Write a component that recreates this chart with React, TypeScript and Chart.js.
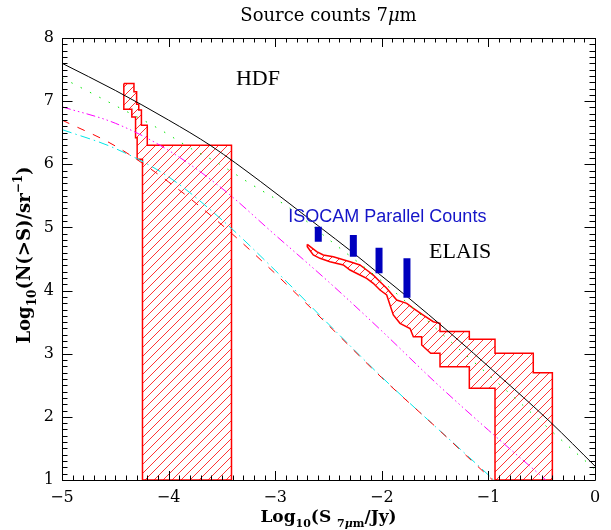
import React, { useEffect, useRef } from "react";
import { Chart, registerables } from "chart.js";

Chart.register(...registerables);

// ---------- data ----------
const xTicks = [-5, -4, -3, -2, -1, 0];
const yTicks = [1, 2, 3, 4, 5, 6, 7, 8];

// model curves
const blackX = [-5, -4.5, -4.0, -3.6, -3.14, -2.6, -2.27, -2.03, -1.76, -1.36, -0.92, -0.42, 0];
const blackY = [7.6, 7.17, 6.7, 6.29, 5.73, 5.03, 4.6, 4.27, 3.9, 3.33, 2.68, 1.92, 1.22];

const greenX = [-5, -4.5, -4.1, -3.77, -3.58, -3.24, -2.86, -2.49, -2.0, -1.67, -1.3, -0.92, -0.49, -0.3, 0];
const greenY = [7.37, 6.93, 6.57, 6.23, 6.06, 5.7, 5.3, 4.8, 4.15, 3.67, 3.11, 2.55, 1.9, 1.61, 1.17];

const magentaX = [-5, -4.5, -4.0, -3.5, -3.0, -2.5, -2.0, -1.5, -1.0, -0.46];
const magentaY = [6.91, 6.65, 6.22, 5.62, 4.88, 4.14, 3.36, 2.55, 1.79, 1.0];

const redX = [-5, -4.5, -4.0, -3.5, -3.0, -2.5, -2.0, -1.5, -1.0, -0.96];
const redY = [6.7, 6.29, 5.72, 5.04, 4.27, 3.45, 2.62, 1.85, 1.06, 1.0];

const cyanX = [-5, -4.5, -4.0, -3.5, -3.0, -2.5, -2.0, -1.5, -1.0, -0.95];
const cyanY = [6.55, 6.25, 5.8, 5.12, 4.32, 3.47, 2.63, 1.85, 1.08, 1.0];

// HDF counts region (closed outline)
const hdfX = [-4.42, -4.325, -4.325, -4.3, -4.3, -4.28, -4.28, -4.255, -4.255, -4.2, -4.2, -3.41, -3.41, -4.245, -4.245, -4.295, -4.295, -4.31, -4.31, -4.345, -4.345, -4.42, -4.42];
const hdfY = [7.28, 7.28, 7.15, 7.15, 6.95, 6.95, 6.86, 6.86, 6.62, 6.62, 6.3, 6.3, 1.0, 1.0, 6.08, 6.08, 6.42, 6.42, 6.75, 6.75, 6.87, 6.87, 7.28];

// ELAIS counts region (closed outline)
const elaisX = [-2.699, -2.611, -2.549, -2.455, -2.298, -2.205, -2.142, -2.08, -2.017, -1.954, -1.86, -1.766, -1.704, -1.611, -1.517, -1.454, -1.454, -1.179, -1.179, -0.938, -0.938, -0.579, -0.579, -0.4, -0.4, -0.938, -0.938, -1.179, -1.179, -1.454, -1.454, -1.541, -1.626, -1.626, -1.704, -1.735, -1.829, -1.892, -1.923, -1.954, -2.017, -2.08, -2.142, -2.205, -2.298, -2.361, -2.486, -2.58, -2.643, -2.699, -2.699];
const elaisY = [4.733, 4.616, 4.563, 4.536, 4.457, 4.405, 4.326, 4.246, 4.14, 4.036, 3.85, 3.798, 3.719, 3.613, 3.507, 3.481, 3.35, 3.35, 3.228, 3.228, 3.006, 3.006, 2.7, 2.7, 1.0, 1.0, 2.452, 2.452, 2.794, 2.794, 3.006, 3.006, 3.138, 3.27, 3.27, 3.4, 3.481, 3.613, 3.771, 3.93, 4.009, 4.115, 4.194, 4.246, 4.326, 4.405, 4.457, 4.511, 4.563, 4.695, 4.733];

// ISOCAM parallel counts (vertical bars)
const isoX = [-2.596, -2.267, -2.026, -1.764];
const isoLo = [4.774, 4.536, 4.273, 3.887];
const isoHi = [5.011, 4.88, 4.679, 4.511];

// ---------- helpers ----------
const pts = (xs: number[], ys: number[]) => xs.map((x, i) => ({ x, y: ys[i] }));

type Seg = { t: string; k?: "sub" | "sup"; it?: boolean };

function drawRich(
  ctx: CanvasRenderingContext2D,
  segs: Seg[],
  cx: number,
  cy: number,
  size: number,
  family: string,
  weight: string,
  rotate: boolean
) {
  ctx.save();
  ctx.translate(cx, cy);
  if (rotate) ctx.rotate(-Math.PI / 2);
  const fontFor = (s: Seg) =>
    `${s.it ? "italic " : ""}${weight} ${s.k ? Math.round(size * 0.65) : size}px ${family}`;
  let total = 0;
  segs.forEach((s) => {
    ctx.font = fontFor(s);
    total += ctx.measureText(s.t).width;
  });
  let x = -total / 2;
  ctx.textAlign = "left";
  ctx.textBaseline = "alphabetic";
  ctx.fillStyle = "#000";
  segs.forEach((s) => {
    ctx.font = fontFor(s);
    const dy = s.k === "sub" ? size * 0.3 : s.k === "sup" ? -size * 0.45 : 0;
    ctx.fillText(s.t, x, size * 0.35 + dy);
    x += ctx.measureText(s.t).width;
  });
  ctx.restore();
}

const hatchPlugin = {
  id: "hatchFill",
  beforeDatasetsDraw(chart: any) {
    const ctx: CanvasRenderingContext2D = chart.ctx;
    const a = chart.chartArea;
    chart.data.datasets.forEach((ds: any, i: number) => {
      if (!ds.hatch) return;
      const meta = chart.getDatasetMeta(i);
      const els = meta.data;
      if (!els.length) return;
      ctx.save();
      ctx.beginPath();
      ctx.rect(a.left, a.top, a.right - a.left, a.bottom - a.top);
      ctx.clip();
      ctx.beginPath();
      els.forEach((p: any, j: number) => (j === 0 ? ctx.moveTo(p.x, p.y) : ctx.lineTo(p.x, p.y)));
      ctx.closePath();
      ctx.clip();
      ctx.strokeStyle = "rgba(255,30,30,0.9)";
      ctx.lineWidth = 1;
      ctx.beginPath();
      const step = 9;
      for (let c = a.left + a.top - 600; c <= a.right + a.bottom + 20; c += step) {
        ctx.moveTo(c - a.bottom, a.bottom);
        ctx.lineTo(c - a.top, a.top);
      }
      ctx.stroke();
      ctx.restore();
    });
  },
};

const framePlugin = {
  id: "frameTicks",
  afterDatasetsDraw(chart: any) {
    const ctx: CanvasRenderingContext2D = chart.ctx;
    const { left, right, top, bottom } = chart.chartArea;
    const xs = chart.scales.x;
    const ys = chart.scales.y;
    ctx.save();
    ctx.strokeStyle = "#000";
    ctx.lineWidth = 1;
    ctx.beginPath();
    ctx.rect(Math.round(left) + 0.5, Math.round(top) + 0.5, Math.round(right - left), Math.round(bottom - top));
    ctx.stroke();
    ctx.beginPath();
    for (let k = 0; k <= 50; k++) {
      const v = -5 + k * 0.1;
      const px = Math.round(xs.getPixelForValue(v)) + 0.5;
      const len = k % 10 === 0 ? 9 : 4.5;
      ctx.moveTo(px, bottom);
      ctx.lineTo(px, bottom - len);
      ctx.moveTo(px, top);
      ctx.lineTo(px, top + len);
    }
    for (let k = 0; k <= 70; k++) {
      const v = 1 + k * 0.1;
      const py = Math.round(ys.getPixelForValue(v)) + 0.5;
      const len = k % 10 === 0 ? 10.5 : 5.5;
      ctx.moveTo(left, py);
      ctx.lineTo(left + len, py);
      ctx.moveTo(right, py);
      ctx.lineTo(right - len, py);
    }
    ctx.stroke();
    ctx.restore();
  },
};

const textPlugin = {
  id: "texts",
  afterDraw(chart: any) {
    const ctx: CanvasRenderingContext2D = chart.ctx;
    const xs = chart.scales.x;
    const ys = chart.scales.y;
    const { left, right } = chart.chartArea;
    // title
    drawRich(
      ctx,
      [{ t: "Source counts 7" }, { t: "\u03bc", it: true }, { t: "m" }],
      (left + right) / 2,
      15,
      18,
      "'DejaVu Serif'",
      "normal",
      false
    );
    // y axis title
    drawRich(
      ctx,
      [{ t: "Log" }, { t: "10", k: "sub" }, { t: "(N(>S)/sr" }, { t: "\u22121", k: "sup" }, { t: ")" }],
      24,
      255,
      18,
      "'DejaVu Serif'",
      "bold",
      true
    );
    // x axis title
    drawRich(
      ctx,
      [{ t: "Log" }, { t: "10", k: "sub" }, { t: "(S " }, { t: "7", k: "sub" }, { t: "\u03bc", k: "sub", it: true }, { t: "m", k: "sub" }, { t: "/Jy)" }],
      (left + right) / 2,
      516,
      17,
      "'DejaVu Serif'",
      "bold",
      false
    );
    // annotations
    ctx.save();
    ctx.textAlign = "left";
    ctx.textBaseline = "alphabetic";
    ctx.fillStyle = "#000";
    ctx.font = "22px 'Liberation Serif'";
    ctx.fillText("HDF", xs.getPixelForValue(-3.368), ys.getPixelForValue(7.256));
    ctx.fillText("ELAIS", xs.getPixelForValue(-1.557), ys.getPixelForValue(4.511));
    ctx.fillStyle = "rgb(20,20,200)";
    ctx.font = "18px 'Liberation Sans'";
    ctx.fillText("ISOCAM Parallel Counts", xs.getPixelForValue(-2.877), ys.getPixelForValue(5.091));
    ctx.restore();
  },
};

const minus = (v: number) => (v < 0 ? "\u2212" + Math.abs(v) : String(v));

export default function App() {
  const ref = useRef<HTMLCanvasElement | null>(null);

  useEffect(() => {
    document.body.style.margin = "0";
    const canvas = ref.current;
    if (!canvas) return;

    const curve = (xs: number[], ys: number[], color: string, dash: number[]) => ({
      type: "line" as const,
      data: pts(xs, ys),
      borderColor: color,
      borderWidth: 1,
      borderDash: dash,
      pointRadius: 0,
      cubicInterpolationMode: "monotone" as const,
      fill: false,
      order: 5,
    });

    const isoData: any[] = [];
    isoX.forEach((x, i) => {
      isoData.push({ x, y: isoLo[i] }, { x, y: isoHi[i] }, { x, y: null });
    });

    const chart: any = new Chart(canvas, {
      type: "line",
      data: {
        datasets: [
          {
            label: "HDF",
            data: pts(hdfX, hdfY),
            borderColor: "rgb(255,0,0)",
            borderWidth: 1.5,
            pointRadius: 0,
            tension: 0,
            fill: false,
            order: 10,
            hatch: true,
          } as any,
          {
            label: "ELAIS",
            data: pts(elaisX, elaisY),
            borderColor: "rgb(255,0,0)",
            borderWidth: 1.5,
            pointRadius: 0,
            tension: 0,
            fill: false,
            order: 10,
            hatch: true,
          } as any,
          { label: "model", ...curve(blackX, blackY, "#000", []) },
          { label: "green", ...curve(greenX, greenY, "rgb(0,230,0)", [1.5, 9]) },
          { label: "magenta", ...curve(magentaX, magentaY, "rgb(255,0,255)", [9, 3, 1.5, 3, 1.5, 3, 1.5, 3]) },
          { label: "red", ...curve(redX, redY, "rgb(255,0,0)", [8, 9]) },
          { label: "cyan", ...curve(cyanX, cyanY, "rgb(0,230,230)", [10, 4, 1.5, 4]) },
          {
            label: "ISOCAM",
            data: isoData,
            borderColor: "rgb(0,0,190)",
            borderWidth: 7,
            borderCapStyle: "butt",
            pointRadius: 0,
            spanGaps: false,
            fill: false,
            order: 1,
          } as any,
        ],
      },
      options: {
        animation: false,
        responsive: false,
        maintainAspectRatio: false,
        devicePixelRatio: 1,
        layout: { padding: { left: 0, top: 38, right: 16, bottom: 0 } },
        plugins: {
          legend: { display: false },
          tooltip: { enabled: false },
          title: { display: false },
        },
        elements: { point: { radius: 0 } },
        scales: {
          x: {
            type: "linear",
            min: -5,
            max: 0,
            grid: { display: false, drawTicks: false },
            border: { display: false },
            afterBuildTicks: (s: any) => {
              s.ticks = xTicks.map((v) => ({ value: v }));
            },
            afterFit: (s: any) => {
              s.height = 50;
            },
            ticks: {
              color: "#000",
              padding: 8,
              maxRotation: 0,
              font: { family: "'DejaVu Serif'", size: 16 },
              callback: (v: any) => minus(Number(v)),
            },
          },
          y: {
            type: "linear",
            min: 1,
            max: 8,
            grid: { display: false, drawTicks: false },
            border: { display: false },
            afterBuildTicks: (s: any) => {
              s.ticks = yTicks.map((v) => ({ value: v }));
            },
            afterFit: (s: any) => {
              s.width = 62;
            },
            ticks: {
              color: "#000",
              padding: 8,
              font: { family: "'DejaVu Serif'", size: 16 },
              callback: (v: any) => minus(Number(v)),
            },
          },
        },
      },
      plugins: [hatchPlugin, framePlugin, textPlugin],
    } as any);

    return () => chart.destroy();
  }, []);

  return (
    <div style={{ width: 611, height: 530, background: "#fff" }}>
      <canvas ref={ref} width={611} height={530} style={{ display: "block" }} />
    </div>
  );
}
